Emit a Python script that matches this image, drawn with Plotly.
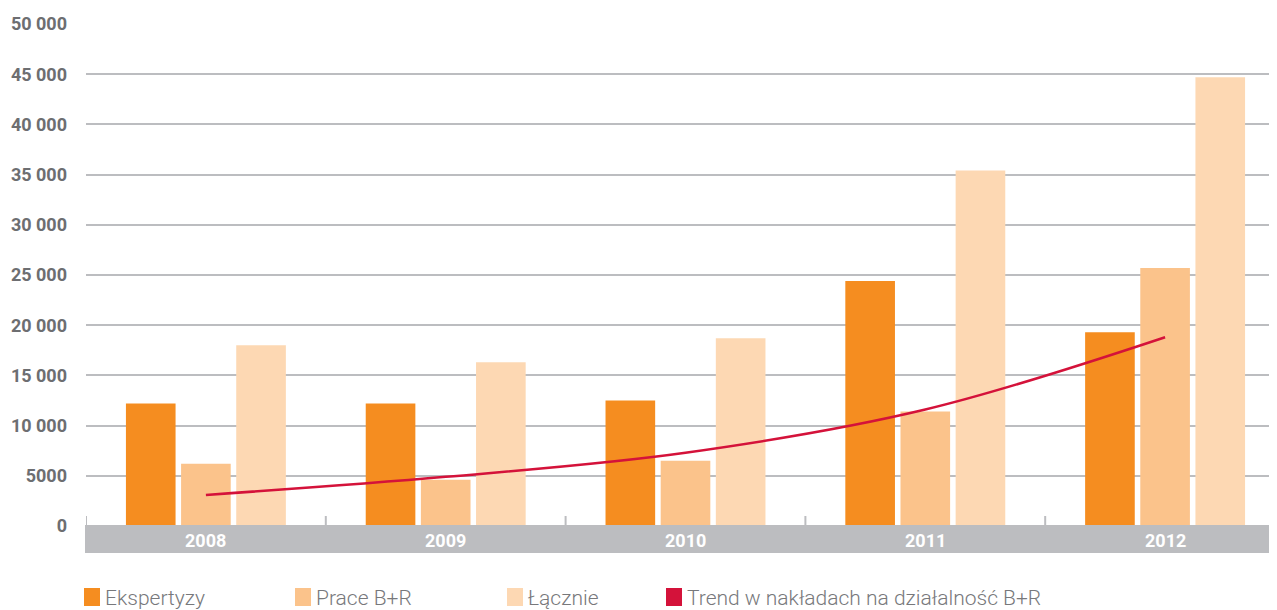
import plotly.graph_objects as go

years = ['2008', '2009', '2010', '2011', '2012']
ekspertyzy = [12200, 12200, 12500, 24400, 19300]
prace_br = [6200, 4600, 6500, 11400, 25700]
lacznie = [18000, 16300, 18700, 35400, 44700]
trend = [3100, 4900, 7300, 11600, 18800]

y_tickvals = [0, 5000, 10000, 15000, 20000, 25000, 30000, 35000, 40000, 45000, 50000]
y_ticktext = ['0', '5000', '10 000', '15 000', '20 000', '25 000', '30 000',
              '35 000', '40 000', '45 000', '50 000']

legend_names = ['Ekspertyzy', 'Prace B+R', 'Łącznie', 'Trend w nakładach na działalność B+R']

C_EKS = '#f58d20'
C_PRACE = '#fbc38b'
C_LACZ = '#fdd8b3'
C_TREND = '#d4123a'
C_GRID = '#bcbdc0'
C_TEXT = '#6d6e71'

OFF = 8  # page body margin
W, H = 1277, 610
# desired screen positions of plot area
S_LEFT, S_RIGHT, S_TOP, S_BOTTOM = 86, 1277, 24, 526
L = S_LEFT - OFF
T = S_TOP - OFF
R = W - (S_RIGHT - OFF)
B = H - (S_BOTTOM - OFF)
PW, PH = W - L - R, H - T - B


def px(p):
    return (p - S_LEFT) / PW


def py(p):
    return (S_BOTTOM - p) / PH


xs = list(range(len(years)))

fig = go.Figure()
fig.add_bar(x=xs, y=ekspertyzy, name=legend_names[0], marker_color=C_EKS, marker_line_width=0)
fig.add_bar(x=xs, y=prace_br, name=legend_names[1], marker_color=C_PRACE, marker_line_width=0)
fig.add_bar(x=xs, y=lacznie, name=legend_names[2], marker_color=C_LACZ, marker_line_width=0)
fig.add_scatter(x=xs, y=trend, mode='lines', name=legend_names[3],
                line=dict(color=C_TREND, width=2.5, shape='spline'))

shapes = []
# grey category band
shapes.append(dict(type='rect', xref='paper', yref='paper', x0=px(85), x1=1,
                   y0=py(553), y1=py(525), fillcolor=C_GRID, line_width=0, layer='above'))
# category boundary ticks
for i in range(len(years) + 1):
    xv = i - 0.5
    shapes.append(dict(type='line', xref='x', yref='paper', x0=xv, x1=xv,
                       y0=py(525), y1=py(516), line=dict(color=C_GRID, width=2)))

annotations = []
for i, yr in enumerate(years):
    annotations.append(dict(x=i, xref='x', y=py(540), yref='paper', text=yr,
                            showarrow=False, xanchor='center', yanchor='middle',
                            font=dict(family='Roboto', size=18, color='white', weight='bold')))

# manual legend
leg_x = [84, 295, 507, 666]
leg_colors = [C_EKS, C_PRACE, C_LACZ, C_TREND]
for name, lx, col in zip(legend_names, leg_x, leg_colors):
    shapes.append(dict(type='rect', xref='paper', yref='paper', x0=px(lx), x1=px(lx + 16),
                       y0=py(606), y1=py(588), fillcolor=col, line_width=0))
    annotations.append(dict(x=px(lx + 19), xref='paper', y=py(598), yref='paper', text=name,
                            showarrow=False, xanchor='left', yanchor='middle',
                            font=dict(family='Roboto', size=21, color='#77787b', weight=300)))

fig.update_layout(
    width=W, height=H,
    margin=dict(l=L, r=R, t=T, b=B, autoexpand=False),
    paper_bgcolor='white', plot_bgcolor='white',
    barmode='group', bargap=0.31, bargroupgap=0.1,
    showlegend=False,
    shapes=shapes, annotations=annotations,
    xaxis=dict(range=[-0.5, 4.5 - 8 / 240], showgrid=False, showticklabels=False,
               zeroline=False, showline=False, fixedrange=True, automargin=False),
    yaxis=dict(range=[0, 50000], tickvals=y_tickvals, ticktext=y_ticktext,
               showgrid=True, gridcolor=C_GRID, gridwidth=2, zeroline=False,
               ticks='', ticklabelstandoff=18, automargin=False,
               tickfont=dict(family='Roboto', size=18, color=C_TEXT, weight='bold')),
)

fig.write_html('out.html')
